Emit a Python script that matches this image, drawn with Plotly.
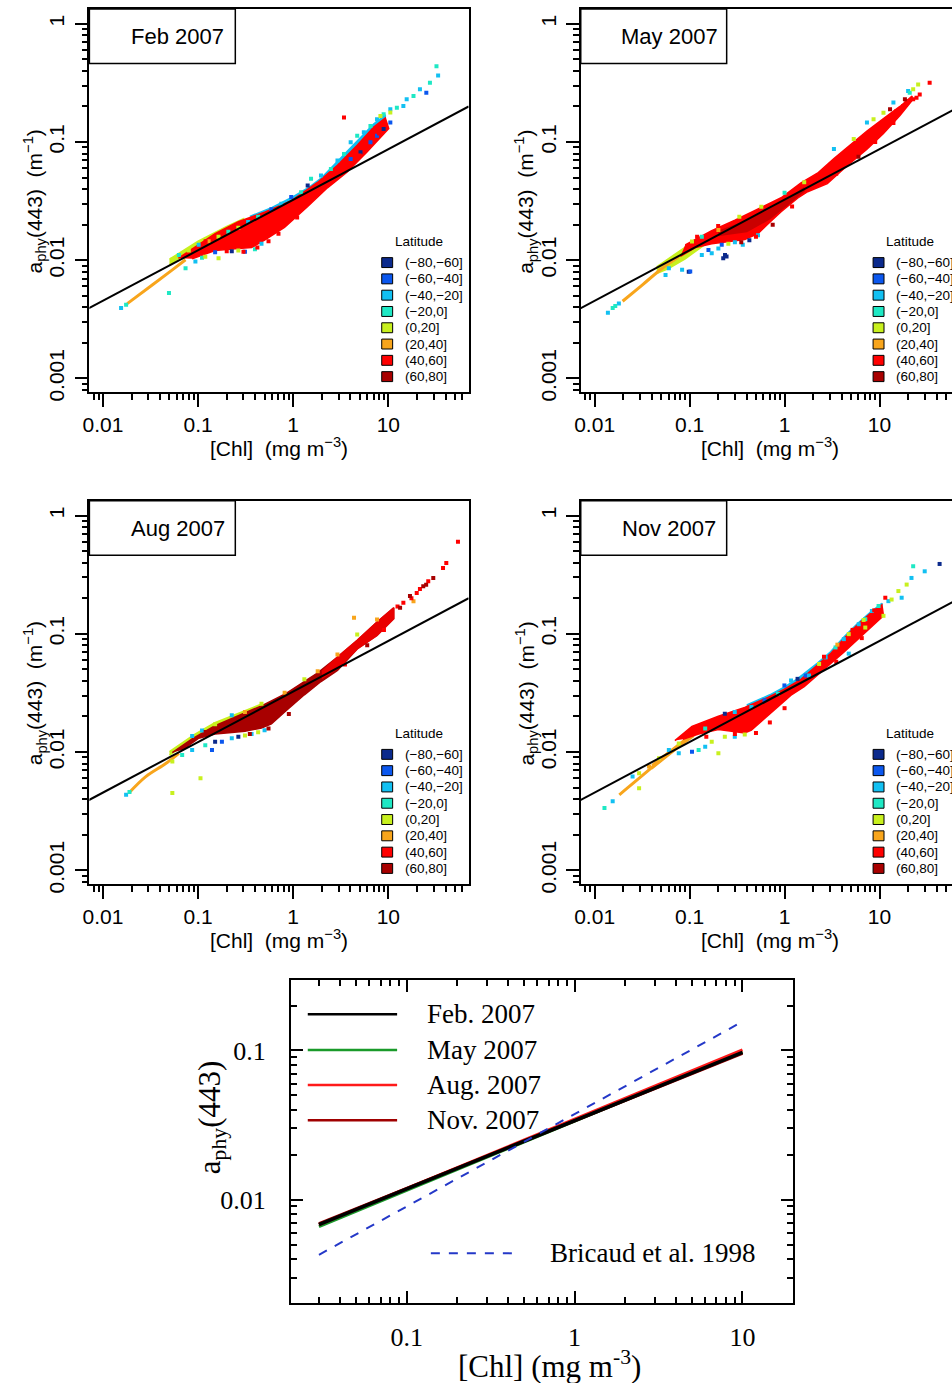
import plotly.graph_objects as go

W, H = 952, 1383

LAT_BANDS = ["(−80,−60]", "(−60,−40]", "(−40,−20]", "(−20,0]",
             "(0,20]", "(20,40]", "(40,60]", "(60,80]"]
LAT_COLORS = ["#0b2a8c", "#0b57ee", "#12c0f2", "#1ee8c4",
              "#c8f01e", "#f8a51c", "#ff0000", "#a80000"]

# power-law fit drawn in each monthly panel
FIT_CHL = [0.007, 70]
FIT_APHY = [0.0039, 0.2]

# ---------------- Feb 2007 ----------------
FEB_REGION_LAT = [4, 2, 6]
FEB_REGION_CHL = [
    [0.05, 0.1, 0.2, 0.3, 0.3, 0.2, 0.1, 0.05],
    [0.35, 0.6, 1.0, 1.5, 2.0, 3.0, 4.7, 7.0, 9.3, 9.3, 7.03, 4.71, 2.92, 1.80, 0.953, 0.50, 0.35],
    [0.062, 0.1, 0.151, 0.265, 0.50, 0.953, 1.80, 2.92, 4.71, 7.03, 9.3,
     10.1, 6.0, 3.7, 2.29, 1.42, 0.81, 0.50, 0.365, 0.245, 0.151, 0.0865],
]
FEB_REGION_APHY = [
    [0.0102, 0.0145, 0.0193, 0.0225, 0.021, 0.018, 0.0132, 0.0092],
    [0.0235, 0.028, 0.0345, 0.042, 0.05, 0.07, 0.101, 0.142, 0.17,
     0.16, 0.134, 0.094, 0.0635, 0.0455, 0.0318, 0.0255, 0.0225],
    [0.0104, 0.0135, 0.0168, 0.0212, 0.0255, 0.0318, 0.0455, 0.0635, 0.094, 0.134, 0.16,
     0.13, 0.083, 0.056, 0.041, 0.0285, 0.019, 0.0148, 0.0128, 0.0125, 0.0121, 0.0103],
]
FEB_TAIL_CHL = [0.018, 0.0332, 0.0536, 0.0738]
FEB_TAIL_APHY = [0.0043, 0.0062, 0.0083, 0.0101]
FEB_PT_CHL = [1.54, 1.96, 2.49, 2.92, 3.42, 4.02, 4.71, 5.53, 6.49, 7.61, 8.93, 10.5, 12.3, 14.4,
              4.02, 5.10, 6.49, 7.61, 8.93, 10.5, 3.42, 10.5, 15.6, 18.4, 21.5, 27.4, 25.1, 32.1,
              33.4, 8.26, 0.0536, 0.0628, 0.0798, 0.1014, 0.129, 0.164, 0.208, 0.265, 0.336,
              0.428, 0.59, 0.75, 0.953, 1.21, 1.42, 0.0738, 0.0937, 0.119, 0.164, 0.151, 0.226,
              0.265, 0.311, 0.396, 0.464, 0.11, 0.0155, 0.0175, 0.0494,
              0.3, 0.42, 0.55, 0.2, 0.7, 1.1, 3.0, 5.0, 8.0, 0.08, 0.12]
FEB_PT_APHY = [0.0489, 0.0521, 0.0593, 0.0697, 0.0793, 0.0994, 0.113, 0.121, 0.137, 0.156,
               0.172, 0.189, 0.195, 0.202, 0.072, 0.0818, 0.0994, 0.113, 0.129, 0.146, 0.161,
               0.178, 0.23, 0.245, 0.279, 0.318, 0.261, 0.438, 0.366, 0.166, 0.0101, 0.0111,
               0.012, 0.0135, 0.0145, 0.0158, 0.0174, 0.0188, 0.0211, 0.0233, 0.027, 0.0301,
               0.0343, 0.0377, 0.043, 0.00857, 0.00975, 0.0107, 0.0104, 0.0117, 0.0119, 0.0121,
               0.0118, 0.0124, 0.0138, 0.0105, 0.00395, 0.0042, 0.00528,
               0.0118, 0.0128, 0.0145, 0.0119, 0.0168, 0.023, 0.052, 0.077, 0.118, 0.0112, 0.0145]
FEB_PT_LAT = [3, 2, 3, 2, 3, 2, 3, 2, 3, 2, 3, 2, 3, 2,
              1, 0, 1, 1, 0, 1, 6, 4, 2, 3, 2, 3, 1, 3,
              2, 4, 4, 3, 4, 2, 5, 4, 3, 4, 2,
              3, 1, 2, 1, 3, 0, 3, 2, 4, 4, 1, 0,
              4, 1, 3, 2, 3, 2, 3, 3,
              6, 6, 6, 6, 6, 6, 6, 6, 6, 6, 6]

# ---------------- May 2007 ----------------
MAY_REGION_LAT = [4, 6, 7]
MAY_REGION_CHL = [
    [0.045, 0.07, 0.1, 0.15, 0.2, 0.2, 0.13, 0.09, 0.06, 0.045],
    [0.09, 0.171, 0.30, 0.569, 0.92, 1.49, 2.22, 3.31, 4.93, 7.37, 11.0, 16.4, 22.0,
     22.0, 16.4, 11.0, 7.37, 4.56, 2.82, 1.75, 1.37, 0.92, 0.668, 0.525, 0.381, 0.256, 0.171,
     0.115, 0.08],
    [0.2, 0.4, 0.7, 1.1, 1.6, 1.6, 1.1, 0.7, 0.4, 0.2],
]
MAY_REGION_APHY = [
    [0.0088, 0.0112, 0.0137, 0.016, 0.018, 0.0163, 0.0127, 0.0103, 0.0085, 0.0077],
    [0.0135, 0.0178, 0.0218, 0.0282, 0.0338, 0.0452, 0.0545, 0.0725, 0.095, 0.124, 0.158, 0.2,
     0.245, 0.225, 0.168, 0.118, 0.087, 0.063, 0.0445, 0.038, 0.0335, 0.0258, 0.0203, 0.0168,
     0.015, 0.0143, 0.0138, 0.0128, 0.0108],
    [0.0175, 0.0215, 0.0268, 0.033, 0.041, 0.0385, 0.030, 0.0225, 0.0175, 0.0162],
]
MAY_TAIL_CHL = [0.0197, 0.0319, 0.0516, 0.0769]
MAY_TAIL_APHY = [0.0045, 0.0062, 0.00857, 0.0107]
MAY_PT_CHL = [3.31, 5.35, 7.37, 8.65, 11.0, 14.0, 20.8, 25.5, 33.7, 12.9, 17.8, 19.2, 22.6, 15.1,
              20.0, 22.6, 26.5, 24.5, 18.5, 0.106, 0.1345, 0.201, 0.334, 0.569, 1.0, 1.61,
              0.0558, 0.0605, 0.0834, 0.1016, 0.1345, 0.158, 0.171, 0.201, 0.218, 0.226, 0.245,
              0.256, 0.30, 0.363, 0.426, 0.525, 0.098, 0.236, 0.0138, 0.0155, 0.0165, 0.018,
              0.35, 0.5, 0.75, 1.2, 3.5, 6.0, 9.0, 14.0, 0.12, 0.2]
MAY_PT_APHY = [0.0873, 0.106, 0.146, 0.156, 0.177, 0.216, 0.261, 0.307, 0.318, 0.189, 0.202,
               0.222, 0.23, 0.183, 0.27, 0.279, 0.253, 0.237, 0.23, 0.0144, 0.0158, 0.018,
               0.0233, 0.0283, 0.0372, 0.0458, 0.0075, 0.00857, 0.0083, 0.00803, 0.0111, 0.0122,
               0.01146, 0.0126, 0.0135, 0.0104, 0.01075, 0.0138, 0.0142, 0.0135, 0.0148, 0.0163,
               0.008, 0.0111, 0.00359, 0.00395, 0.0041, 0.0043,
               0.0142, 0.0158, 0.02, 0.0285, 0.054, 0.075, 0.1, 0.145, 0.0158, 0.0195]
MAY_PT_LAT = [2, 4, 2, 4, 4, 2, 3, 4, 6, 7, 6, 6, 6, 6,
              2, 4, 6, 6, 7, 4, 3, 5, 4, 4, 3, 4,
              2, 2, 2, 1, 2, 1, 2, 2, 1, 0, 0,
              4, 2, 2, 0, 2, 0, 0, 2, 3, 3, 2,
              7, 6, 7, 6, 6, 7, 6, 6, 6, 6]

# ---------------- Aug 2007 ----------------
AUG_REGION_LAT = [4, 7, 6]
AUG_REGION_CHL = [
    [0.05, 0.09, 0.15, 0.26, 0.46, 0.46, 0.26, 0.15, 0.09, 0.05],
    [0.0536, 0.0866, 0.151, 0.265, 0.464, 0.813, 1.31, 1.81, 2.92, 4.71, 7.61, 11.4,
     11.4, 7.61, 4.71, 2.92, 1.96, 1.31, 0.813, 0.59, 0.464, 0.311, 0.226, 0.151, 0.1016, 0.068],
    [2.0, 2.92, 4.71, 7.61, 11.4, 11.4, 7.61, 4.71, 2.92, 2.0],
]
AUG_REGION_APHY = [
    [0.0101, 0.014, 0.0177, 0.0212, 0.0254, 0.024, 0.02, 0.0164, 0.0128, 0.0094],
    [0.0099, 0.0129, 0.0167, 0.0203, 0.0246, 0.0308, 0.0398, 0.0468, 0.0635, 0.088, 0.126, 0.166,
     0.134, 0.097, 0.0745, 0.049, 0.0395, 0.0305, 0.0218, 0.0173, 0.016, 0.015, 0.0146,
     0.0142, 0.0131, 0.0104],
    [0.048, 0.0635, 0.088, 0.126, 0.166, 0.134, 0.097, 0.0745, 0.051, 0.042],
]
AUG_TAIL_CHL = [0.0187, 0.0282, 0.0457, 0.0628]
AUG_TAIL_APHY = [0.0045, 0.0062, 0.008, 0.00975]
AUG_PT_CHL = [54, 40.7, 37.6, 29.7, 26.3, 23.3, 19.9, 16.9, 14.4, 13.3, 18.4, 4.36, 21.5, 25.0,
              17.5, 12.5, 0.0866, 0.110, 0.151, 0.226, 0.311, 0.464, 0.813, 1.31, 1.81, 2.92,
              4.71, 7.61, 0.0866, 0.119, 0.14, 0.151, 0.178, 0.226, 0.265, 0.311, 0.365, 0.428,
              0.50, 0.068, 0.0536, 0.0536, 0.106, 0.0175, 0.019,
              0.35, 0.55, 0.9, 3.5, 6.0, 9.0, 0.12]
AUG_PT_APHY = [0.6, 0.397, 0.36, 0.297, 0.279, 0.253, 0.222, 0.209, 0.183, 0.166, 0.189, 0.137,
               0.24, 0.26, 0.2, 0.17, 0.0137, 0.0152, 0.0172, 0.0205, 0.0218, 0.0256, 0.0318,
               0.0412, 0.0482, 0.067, 0.0985, 0.132, 0.0104, 0.0114, 0.0104, 0.0122, 0.0122,
               0.0131, 0.0135, 0.0138, 0.0142, 0.0147, 0.0153, 0.00944, 0.0083, 0.0045, 0.006,
               0.00435, 0.0046,
               0.0142, 0.0158, 0.021, 0.055, 0.08, 0.108, 0.0148]
AUG_PT_LAT = [6, 6, 6, 7, 6, 7, 6, 7, 6, 7, 5, 5, 6, 7,
              6, 6, 2, 2, 4, 2, 5, 4, 5, 4, 5, 5,
              4, 5, 2, 3, 1, 0, 1, 2, 0, 4, 2, 4,
              2, 3, 4, 4, 4, 2, 3,
              7, 7, 7, 6, 7, 6, 7]

# ---------------- Nov 2007 ----------------
NOV_REGION_LAT = [5, 2, 6]
NOV_REGION_CHL = [
    [0.04, 0.06, 0.085, 0.11, 0.11, 0.08, 0.06, 0.04],
    [0.4, 0.7, 1.0, 1.3, 2.22, 3.05, 4.21, 5.79, 7.98, 10.6,
     10.6, 7.98, 5.79, 4.21, 3.05, 2.22, 1.3, 1.0, 0.668, 0.4],
    [0.07, 0.106, 0.201, 0.381, 0.668, 0.996, 1.49, 2.22, 3.05, 4.21, 5.79, 7.98, 10.6,
     11.0, 7.98, 5.79, 4.21, 3.05, 2.22, 1.61, 1.17, 0.85, 0.616, 0.448, 0.381, 0.277, 0.201,
     0.1245, 0.085],
]
NOV_REGION_APHY = [
    [0.0078, 0.0101, 0.0125, 0.0145, 0.0135, 0.0112, 0.0093, 0.0072],
    [0.025, 0.0305, 0.0355, 0.0405, 0.0565, 0.0705, 0.094, 0.121, 0.152, 0.181,
     0.176, 0.148, 0.118, 0.091, 0.068, 0.054, 0.038, 0.034, 0.029, 0.0239],
    [0.0125, 0.0165, 0.0201, 0.0238, 0.029, 0.034, 0.0412, 0.054, 0.068, 0.091, 0.118, 0.148,
     0.176, 0.142, 0.112, 0.088, 0.07, 0.056, 0.0448, 0.0358, 0.0303, 0.024, 0.019, 0.0153,
     0.0145, 0.015, 0.0155, 0.0142, 0.0128],
]
NOV_TAIL_CHL = [0.0182, 0.0374, 0.0655]
NOV_TAIL_APHY = [0.00435, 0.00706, 0.0104]
NOV_PT_CHL = [15.8, 17.1, 19.3, 21.7, 22.6, 29.9, 42.9, 13.4, 12.4, 11.5,
              1.81, 2.31, 2.71, 3.44, 4.21, 4.74, 6.04, 7.08, 8.31, 9.77,
              0.996, 1.17, 1.37, 1.67, 4.74, 7.08, 11.0,
              0.0251, 0.0294, 0.0374, 0.0476, 0.0605, 0.0769, 0.146, 0.235, 0.299, 0.448, 0.616, 0.85,
              0.0769, 0.106, 0.146, 0.171, 0.201, 0.235, 0.299, 0.381, 0.1245,
              0.0127, 0.0155, 0.0294,
              2.6, 3.6, 5.2, 6.8, 8.8,
              0.3, 0.5, 0.7, 1.0, 0.15, 3.5, 6.5]
NOV_PT_APHY = [0.23, 0.202, 0.261, 0.297, 0.373, 0.338, 0.39, 0.195, 0.189, 0.202,
               0.0444, 0.0556, 0.0632, 0.0767, 0.0902, 0.0994, 0.1206, 0.133, 0.156, 0.172,
               0.0366, 0.0403, 0.0416, 0.0444, 0.068, 0.113, 0.142,
               0.0062, 0.00662, 0.00753, 0.00885, 0.0104, 0.0118, 0.0158, 0.0211, 0.0218, 0.024,
               0.0274, 0.0311,
               0.00975, 0.01007, 0.0111, 0.0122, 0.00975, 0.0135, 0.0135, 0.0141, 0.0104,
               0.00336, 0.00383, 0.00495,
               0.064, 0.081, 0.108, 0.131, 0.158,
               0.0142, 0.0145, 0.0178, 0.0235, 0.0135, 0.058, 0.092]
NOV_PT_LAT = [4, 2, 4, 2, 3, 2, 0, 4, 2, 6,
              2, 4, 2, 3, 2, 4, 2, 3, 2, 3,
              1, 2, 0, 1, 2, 4, 4,
              2, 4, 5, 4, 2, 4, 3, 0, 2, 2, 1, 3,
              2, 1, 2, 4, 4, 4, 2, 4, 3,
              3, 2, 4,
              6, 5, 6, 4, 6,
              6, 6, 6, 6, 6, 6, 6]

# ---------------- summary panel ----------------
MONTH_NAMES = ["Feb. 2007", "May 2007", "Aug. 2007", "Nov. 2007"]
MONTH_COLORS = ["#000000", "#1a9a2a", "#ff1a1a", "#a00000"]
MONTH_CHL = [0.03, 10]
MONTH_APHY = [[0.0068, 0.097], [0.0066, 0.098], [0.0068, 0.101], [0.0069, 0.0955]]
BRICAUD_CHL = [0.03, 10]
BRICAUD_APHY = [0.00427, 0.156]

SANS = "Liberation Sans, Arial, sans-serif"
SERIF = "Liberation Serif, Times New Roman, serif"


def fx(x):
    return x / W


def fy(y):
    return 1 - y / H


def log_minor(lo, hi):
    return [m * 10.0 ** e for e in range(lo, hi) for m in range(2, 10)]


def note(text, x, y, size, family=SANS, xanchor="center", angle=0):
    # every label is placed in page pixels
    return dict(text=text, x=fx(x), y=fy(y), xref="paper", yref="paper",
                xanchor=xanchor, yanchor="middle", textangle=angle, showarrow=False,
                font=dict(family=family, size=size, color="black"))


fig = go.Figure()
shapes = []
annotations = []

PANELS = [
    ("Feb 2007", 83, 9, [-2.143, 1.844],
     FEB_REGION_LAT, FEB_REGION_CHL, FEB_REGION_APHY, [1, 1, 1],
     FEB_TAIL_CHL, FEB_TAIL_APHY, FEB_PT_CHL, FEB_PT_APHY, FEB_PT_LAT),
    ("May 2007", 578, 9, [-2.146, 1.763],
     MAY_REGION_LAT, MAY_REGION_CHL, MAY_REGION_APHY, [1, 1, 0.6],
     MAY_TAIL_CHL, MAY_TAIL_APHY, MAY_PT_CHL, MAY_PT_APHY, MAY_PT_LAT),
    ("Aug 2007", 83, 504, [-2.143, 1.844],
     AUG_REGION_LAT, AUG_REGION_CHL, AUG_REGION_APHY, [1, 1, 0.75],
     AUG_TAIL_CHL, AUG_TAIL_APHY, AUG_PT_CHL, AUG_PT_APHY, AUG_PT_LAT),
    ("Nov 2007", 578, 504, [-2.146, 1.763],
     NOV_REGION_LAT, NOV_REGION_CHL, NOV_REGION_APHY, [1, 1, 1],
     NOV_TAIL_CHL, NOV_TAIL_APHY, NOV_PT_CHL, NOV_PT_APHY, NOV_PT_LAT),
]

PW, PH = 382, 386  # monthly panel size in px

for i, (label, left, top, xr, rlat, rchl, raphy, ralpha,
        tchl, taphy, pchl, paphy, plat) in enumerate(PANELS, start=1):
    xa = "x" if i == 1 else f"x{i}"
    ya = "y" if i == 1 else f"y{i}"

    for lat, cx, cy, alpha in zip(rlat, rchl, raphy, ralpha):
        fig.add_trace(go.Scatter(
            x=cx, y=cy, xaxis=xa, yaxis=ya, mode="lines", fill="toself",
            fillcolor=LAT_COLORS[lat], opacity=alpha,
            line=dict(color=LAT_COLORS[lat], width=1.5),
            hoverinfo="skip", showlegend=False))

    fig.add_trace(go.Scatter(
        x=tchl, y=taphy, xaxis=xa, yaxis=ya, mode="lines",
        line=dict(color=LAT_COLORS[5], width=3, shape="spline"),
        hoverinfo="skip", showlegend=False))

    for band in range(8):
        bx = [c for c, l in zip(pchl, plat) if l == band]
        by = [a for a, l in zip(paphy, plat) if l == band]
        if not bx:
            continue
        fig.add_trace(go.Scatter(
            x=bx, y=by, xaxis=xa, yaxis=ya, mode="markers",
            marker=dict(symbol="square", size=4, color=LAT_COLORS[band], line=dict(width=0)),
            hoverinfo="skip", showlegend=False))

    fig.add_trace(go.Scatter(
        x=FIT_CHL, y=FIT_APHY, xaxis=xa, yaxis=ya, mode="lines",
        line=dict(color="black", width=2), hoverinfo="skip", showlegend=False))

    right = min(left + PW, W)
    common = dict(type="log", showgrid=False, zeroline=False, showline=True,
                  linecolor="black", linewidth=1.5, ticks="outside", ticklen=13,
                  tickwidth=1.5, tickcolor="black",
                  tickfont=dict(family=SANS, size=21, color="black"))
    fig.layout["xaxis" if i == 1 else f"xaxis{i}"] = dict(
        domain=[fx(left), fx(right)], range=xr, anchor=ya, mirror=True,
        tickvals=[0.01, 0.1, 1, 10], ticktext=["0.01", "0.1", "1", "10"],
        minor=dict(ticks="outside", ticklen=6, tickwidth=1.5, tickcolor="black",
                   tickvals=log_minor(-3, 2)),
        ticklabelstandoff=0, **common)
    fig.layout["yaxis" if i == 1 else f"yaxis{i}"] = dict(
        domain=[fy(top + PH), fy(top)], range=[-3.118, 0.126], anchor=xa,
        mirror=(right - left) >= PW,
        tickvals=[0.001, 0.01, 0.1, 1], ticktext=["0.001", "0.01", "0.1", "1"],
        tickangle=-90,
        minor=dict(ticks="outside", ticklen=6, tickwidth=1.5, tickcolor="black",
                   tickvals=log_minor(-4, 1)),
        ticklabelstandoff=2, **common)

    # month label box
    shapes.append(dict(type="rect", xref="paper", yref="paper",
                       x0=fx(left), x1=fx(left + 147), y0=fy(top + 55), y1=fy(top),
                       line=dict(color="black", width=1.5), fillcolor="white", layer="above"))
    annotations.append(note(label, left + 89, top + 28, 22))

    # axis titles
    annotations.append(note("[Chl]\u00a0\u00a0(mg m<sup>−3</sup>)", left + 191, top + 441, 21))
    annotations.append(note("a<sub>phy</sub>(443)\u00a0\u00a0(m<sup>−1</sup>)",
                            left - 55, top + 194, 21, angle=-90))

    # latitude key
    annotations.append(note("Latitude", left + 332, top + 234, 13.5))
    for k, name in enumerate(LAT_BANDS):
        yc = top + 255.3 + 16.4 * k
        shapes.append(dict(type="rect", xref="paper", yref="paper",
                           x0=fx(left + 294.5), x1=fx(left + 305.5), y0=fy(yc + 5), y1=fy(yc - 5),
                           line=dict(color="black", width=1), fillcolor=LAT_COLORS[k]))
        annotations.append(note(name, left + 316, yc, 13.5, xanchor="left"))

# ---------------- summary panel ----------------
for k in [1, 2, 3, 0]:
    fig.add_trace(go.Scatter(
        x=MONTH_CHL, y=MONTH_APHY[k], xaxis="x5", yaxis="y5", mode="lines",
        line=dict(color=MONTH_COLORS[k], width=3.5 if k == 0 else 3),
        hoverinfo="skip", showlegend=False))
fig.add_trace(go.Scatter(
    x=BRICAUD_CHL, y=BRICAUD_APHY, xaxis="x5", yaxis="y5", mode="lines",
    line=dict(color="#2438c8", width=2, dash="dash"), hoverinfo="skip", showlegend=False))

bottom_common = dict(type="log", showgrid=False, zeroline=False, showline=True,
                     linecolor="black", linewidth=2, mirror="allticks", ticks="inside",
                     ticklen=12, tickwidth=2, tickcolor="black",
                     tickfont=dict(family=SERIF, size=26, color="black"))
fig.layout["xaxis5"] = dict(domain=[fx(286), fx(792)], range=[-1.69, 1.302], anchor="y5",
                            tickvals=[0.1, 1, 10], ticktext=["0.1", "1", "10"],
                            minor=dict(ticks="inside", ticklen=6, tickwidth=2, tickcolor="black",
                                       tickvals=log_minor(-2, 2)),
                            ticklabelstandoff=9, **bottom_common)
fig.layout["yaxis5"] = dict(domain=[fy(1312), fy(986)], range=[-2.696, -0.525], anchor="x5",
                            tickvals=[0.01, 0.1], ticktext=["0.01", "0.1"],
                            minor=dict(ticks="inside", ticklen=6, tickwidth=2, tickcolor="black",
                                       tickvals=log_minor(-3, 0)),
                            ticklabelstandoff=18, **bottom_common)

for k, (name, yl) in enumerate(zip(MONTH_NAMES, [1021, 1057, 1092, 1127.5])):
    shapes.append(dict(type="line", xref="paper", yref="paper", x0=fx(303), x1=fx(393),
                       y0=fy(yl), y1=fy(yl), line=dict(color=MONTH_COLORS[k], width=2.5)))
    annotations.append(note(name, 421, yl, 27, family=SERIF, xanchor="left"))
shapes.append(dict(type="line", xref="paper", yref="paper", x0=fx(427), x1=fx(517),
                   y0=fy(1261.5), y1=fy(1261.5), line=dict(color="#2438c8", width=2, dash="dash")))
annotations.append(note("Bricaud et al. 1998", 545, 1261.5, 27, family=SERIF, xanchor="left"))
annotations.append(note("a<sub>phy</sub>(443)", 206, 1125, 31, family=SERIF, angle=-90))
annotations.append(note("[Chl] (mg m<sup>-3</sup>)", 547, 1373, 31, family=SERIF))

fig.update_layout(width=W, height=H, autosize=False, margin=dict(l=0, r=0, t=0, b=0),
                  paper_bgcolor="white", plot_bgcolor="white", showlegend=False,
                  shapes=shapes, annotations=annotations)

fig.write_html("out.html", config={"displayModeBar": False},
               post_script="document.body.style.margin='0';")
